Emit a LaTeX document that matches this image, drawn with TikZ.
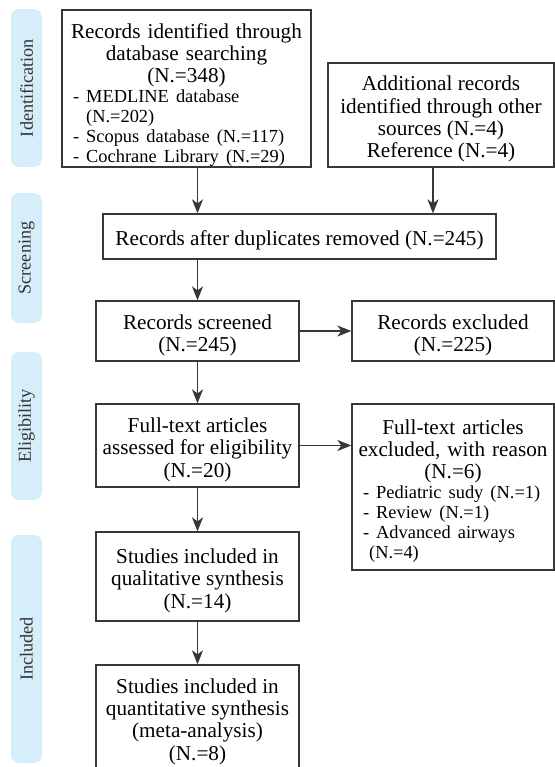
\documentclass[tikz,border=0pt]{standalone}
\usepackage{fontspec}
\setmainfont{Liberation Serif}
\usetikzlibrary{arrows.meta}
\definecolor{barblue}{RGB}{214,237,250}
\definecolor{linegray}{RGB}{55,55,55}
\newcommand{\mainsize}{\fontsize{10.6pt}{11.2pt}\selectfont}
\newcommand{\listsize}{\fontsize{9.2pt}{10pt}\selectfont\leftskip=2.5pt\relax}
\newcommand{\topgap}{\rule{0pt}{11.5pt}}
\setlength{\parindent}{0pt}

\begin{document}
\begin{tikzpicture}[x=0.5pt,y=-0.5pt,
        box/.style={draw=linegray,line width=0.65pt,align=center,inner sep=0pt,
            font=\mainsize},
        listbox/.style={box,align=left,inner xsep=3pt},
        bar/.style={fill=barblue,rounded corners=4pt,minimum height=15.5pt,
            inner sep=0pt,rotate=90,text=black!80,
            font=\fontsize{9.1pt}{10pt}\selectfont},
        arr/.style={draw=linegray,line width=0.7pt,
            -{Stealth[length=7pt,width=5.5pt,inset=2pt]}}]

\useasboundingbox (0,0) rectangle (555,767);

\node[bar,minimum width=79pt] (ident) at (26.5,88) {Identification};
\node[bar,minimum width=65pt] (screen) at (26.5,258) {Screening};
\node[bar,minimum width=74pt] (elig) at (26.5,426) {Eligibility};
\node[bar,minimum width=114pt] (incl) at (26.5,649) {Included};

\node[listbox,text width=118.5pt,minimum height=78.5pt] (recdb) at (186.5,88.5)
    {{\centering\rule{0pt}{14pt}Records identified through\\database searching\\(N.=348)\par}
    \listsize - MEDLINE database\\\phantom{- }(N.=202)\\- Scopus database (N.=117)\\- Cochrane Library (N.=29)\par};
\node[box,minimum width=113pt,minimum height=52pt] (recother) at (441,115)
    {\topgap Additional records\\identified through other\\sources (N.=4)\\Reference (N.=4)};
\node[box,minimum width=196.5pt,minimum height=22.5pt] (dup) at (299.5,236.5)
    {\topgap Records after duplicates removed (N.=245)};
\node[box,minimum width=101.5pt,minimum height=30pt] (scr) at (197.5,331)
    {\topgap Records screened\\(N.=245)};
\node[box,minimum width=101pt,minimum height=30pt] (scrx) at (453,331)
    {\topgap Records excluded\\(N.=225)};
\node[box,minimum width=101.5pt,minimum height=41.5pt] (full) at (197.5,445.5)
    {\topgap Full-text articles\\assessed for eligibility\\(N.=20)};
\node[listbox,text width=95pt,minimum height=83pt] (fullx) at (453,487)
    {{\centering\topgap Full-text articles\\excluded, with reason\\(N.=6)\par}
    \listsize - Pediatric sudy (N.=1)\\- Review (N.=1)\\- Advanced airways\\\phantom{-}(N.=4)\par};
\node[box,minimum width=101.5pt,minimum height=44.5pt] (qual) at (197.5,576.5)
    {\topgap Studies included in\\qualitative synthesis\\(N.=14)};
\node[box,minimum width=101.5pt,minimum height=52.5pt] (quant) at (197.5,717.5)
    {\topgap Studies included in\\quantitative synthesis\\(meta-analysis)\\(N.=8)};

\draw[arr] (recdb.south -| scr.north) -- (dup.north -| scr.north);
\draw[arr] ([xshift=-4pt]recother.south) -- ([xshift=-4pt]recother.south |- dup.north);
\draw[arr] (dup.south -| scr.north) -- (scr.north);
\draw[arr] (scr.east) -- (scrx.west);
\draw[arr] (scr.south) -- (full.north);
\draw[arr] (full.east) -- (fullx.west |- full.east);
\draw[arr] (full.south) -- (qual.north);
\draw[arr] (qual.south) -- (quant.north);
\end{tikzpicture}
\end{document}
